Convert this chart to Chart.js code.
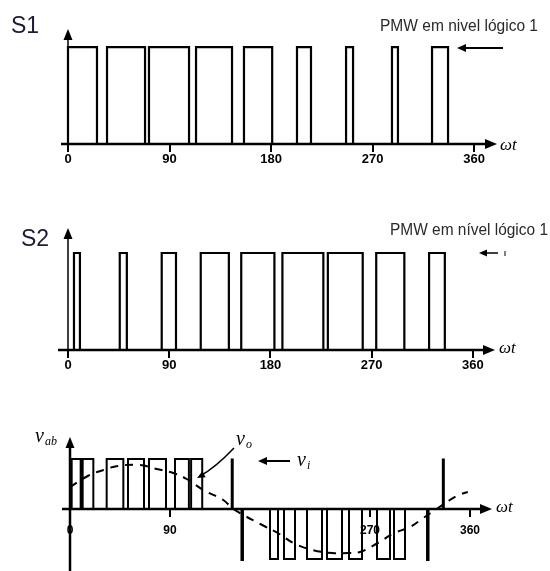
<!DOCTYPE html>
<html><head><meta charset="utf-8">
<script src="https://cdn.jsdelivr.net/npm/chart.js@4/dist/chart.umd.min.js"></script>
<style>
html,body{margin:0;padding:0;background:#fff;width:550px;height:571px;overflow:hidden}
canvas{position:absolute;left:0}
</style></head><body>
<canvas id="c1" style="top:0px" width="550" height="180"></canvas>
<canvas id="c2" style="top:200px" width="550" height="190"></canvas>
<canvas id="c3" style="top:390px" width="550" height="181"></canvas>
<script>
// ---- data (degrees of ωt) ----
const tickValues = [0, 90, 180, 270, 360];
const vabHiddenTicks = [180];
const s1Rise = [0, 34.6, 71.8, 113.5, 156, 203, 246.5, 287.2, 322.7];
const s1Fall = [25.7, 68.3, 107.3, 145.4, 181, 215.4, 252.7, 292.5, 336.9];
const s2Rise = [5.3, 46, 83.3, 118, 154, 190.6, 231, 274, 321];
const s2Fall = [10.6, 52.3, 96, 143, 183.5, 227, 262, 299, 335];
const vabPosRise = [1.5, 11.4, 33, 52.2, 71.1, 94.5, 109];
const vabPosFall = [9.6, 21, 48, 66.6, 86.4, 107, 119];
const vabNegRise = [180, 192.6, 213.3, 231.3, 251.1, 276.3, 291.6];
const vabNegFall = [187.2, 202.5, 226.8, 244.8, 262.8, 288, 301.5];
const vabPosSpikes = [146, 336];
const vabNegSpikes = [155, 322];
const voDeg = [0, 16, 30, 43, 63, 78, 93, 105, 120, 138, 147, 173, 187, 201, 218, 236, 250, 261, 277, 292, 306, 318, 330, 348, 358];
const voVal = [0.44, 0.66, 0.78, 0.86, 0.88, 0.80, 0.72, 0.60, 0.38, 0.18, 0, -0.32, -0.48, -0.68, -0.82, -0.88, -0.88, -0.86, -0.68, -0.48, -0.36, -0.18, 0, 0.26, 0.34];
const labelS1 = 'S1', labelS2 = 'S2';
const note1 = 'PMW em nivel lógico 1', note2 = 'PMW em nível lógico 1';

function pulses(rise, fall, level) {
  const pts = [];
  rise.forEach((r, i) => {
    pts.push({x: r, y: 0}, {x: r, y: level}, {x: fall[i], y: level}, {x: fall[i], y: 0});
  });
  return pts;
}
function spikes(xs, level) {
  const pts = [];
  xs.forEach(v => { pts.push({x: v, y: 0}, {x: v, y: level}, {x: v, y: null}); });
  return pts;
}

function arrowHead(ctx, x, y, dir, len, half) {
  ctx.beginPath();
  if (dir === 'up') { ctx.moveTo(x, y); ctx.lineTo(x - half, y + len); ctx.lineTo(x + half, y + len); }
  if (dir === 'right') { ctx.moveTo(x, y); ctx.lineTo(x - len, y - half); ctx.lineTo(x - len, y + half); }
  if (dir === 'left') { ctx.moveTo(x, y); ctx.lineTo(x + len, y - half); ctx.lineTo(x + len, y + half); }
  ctx.closePath(); ctx.fill();
}
function fitText(ctx, txt, x, yMid, w, font, color) {
  ctx.save();
  ctx.font = font; ctx.fillStyle = color; ctx.textBaseline = 'middle'; ctx.textAlign = 'left';
  const m = ctx.measureText(txt).width;
  ctx.translate(x, yMid); ctx.scale(w / m, 1); ctx.fillText(txt, 0, 0);
  ctx.restore();
}
function omegaT(ctx, x, y) {
  ctx.save(); ctx.fillStyle = '#000'; ctx.textBaseline = 'middle';
  ctx.font = 'italic 17px "Liberation Serif"'; ctx.fillText('ωt', x, y);
  ctx.restore();
}

function axesPlugin(o) {
  return {
    id: 'axesdeco',
    afterDatasetsDraw(chart) {
      const ctx = chart.ctx, xs = chart.scales.x, ys = chart.scales.y, ca = chart.chartArea;
      const x0 = xs.getPixelForValue(0), y0 = ys.getPixelForValue(0);
      ctx.save();
      ctx.strokeStyle = '#000'; ctx.fillStyle = '#000';
      ctx.lineWidth = o.xw;
      ctx.beginPath(); ctx.moveTo(ca.left, y0); ctx.lineTo(ca.right - 8, y0); ctx.stroke();
      arrowHead(ctx, ca.right, y0, 'right', 12, 5);
      ctx.lineWidth = o.yw;
      ctx.beginPath(); ctx.moveTo(x0, ca.top + 8); ctx.lineTo(x0, o.yBottom); ctx.stroke();
      arrowHead(ctx, x0, ca.top, 'up', 11, 4.5);
      ctx.restore();
      o.extra(ctx);
    }
  };
}

function baseOptions(xmin, xmax, ymin, ymax, pad, axisH, xpos, tickLen, tickPad, tickSize, hidden) {
  return {
    responsive: false, animation: false, devicePixelRatio: 1, events: [],
    layout: {padding: pad},
    plugins: {legend: {display: false}, tooltip: {enabled: false}},
    elements: {point: {radius: 0}, line: {tension: 0}},
    scales: {
      x: {
        type: 'linear', min: xmin, max: xmax, position: xpos,
        afterBuildTicks: (ax) => { ax.ticks = tickValues.map(v => ({value: v})); },
        afterFit: (sc) => { sc.height = axisH; },
        border: {display: false},
        grid: {drawOnChartArea: false, drawTicks: true, tickLength: tickLen, color: '#000', lineWidth: 2},
        ticks: {autoSkip: false, maxRotation: 0, padding: tickPad, color: '#000',
                font: {family: 'Liberation Sans', weight: 'bold', size: tickSize},
                callback: (v) => (hidden.includes(v) ? '' : String(v))}
      },
      y: {type: 'linear', min: ymin, max: ymax, display: false}
    }
  };
}

// ---- Panel S1 ----
new Chart(document.getElementById('c1'), {
  type: 'line',
  data: {datasets: [{data: pulses(s1Rise, s1Fall, 1), borderColor: '#000', borderWidth: 2.2, fill: false}]},
  options: baseOptions(-6.2, 380.3, 0, 1.186, {left: 61, right: 53, top: 29, bottom: 6}, 30, 'bottom', 8, 0, 13, []),
  plugins: [axesPlugin({xw: 2.5, yw: 1.5, yBottom: 149, extra(ctx) {
    ctx.save();
    ctx.fillStyle = '#1b1b33'; ctx.font = '23px "Liberation Sans"'; ctx.textBaseline = 'alphabetic';
    ctx.fillText(labelS1, 11, 33);
    ctx.restore();
    fitText(ctx, note1, 380, 27, 158, '16px "Liberation Sans"', '#2a2a2a');
    ctx.save(); ctx.strokeStyle = '#000'; ctx.fillStyle = '#000'; ctx.lineWidth = 2;
    ctx.beginPath(); ctx.moveTo(503, 48); ctx.lineTo(464, 48); ctx.stroke();
    arrowHead(ctx, 457, 48, 'left', 9, 4);
    ctx.restore();
    omegaT(ctx, 500, 146);
  }})]
});

// ---- Panel S2 ----
new Chart(document.getElementById('c2'), {
  type: 'line',
  data: {datasets: [{data: pulses(s2Rise, s2Fall, 1), borderColor: '#000', borderWidth: 2.2, fill: false}]},
  options: baseOptions(-8.9, 379.6, 0, 1.258, {left: 58, right: 55, top: 28, bottom: 10}, 30, 'bottom', 8, 0, 13, []),
  plugins: [axesPlugin({xw: 2.5, yw: 1.5, yBottom: 155, extra(ctx) {
    ctx.save();
    ctx.fillStyle = '#1b1b33'; ctx.font = '23px "Liberation Sans"'; ctx.textBaseline = 'alphabetic';
    ctx.fillText(labelS2, 21, 46);
    ctx.restore();
    fitText(ctx, note2, 390, 31, 158, '16px "Liberation Sans"', '#2a2a2a');
    ctx.save(); ctx.strokeStyle = '#000'; ctx.fillStyle = '#000'; ctx.lineWidth = 1.5;
    ctx.beginPath(); ctx.moveTo(498, 53); ctx.lineTo(485, 53); ctx.stroke();
    arrowHead(ctx, 479, 53, 'left', 8, 3.5);
    ctx.lineWidth = 1; ctx.beginPath(); ctx.moveTo(505, 51); ctx.lineTo(505, 56); ctx.stroke();
    ctx.restore();
    omegaT(ctx, 499, 149);
  }})]
});

// ---- Panel v_ab ----
new Chart(document.getElementById('c3'), {
  type: 'line',
  data: {datasets: [
    {data: pulses(vabPosRise, vabPosFall, 1), borderColor: '#000', borderWidth: 2, fill: false},
    {data: pulses(vabNegRise, vabNegFall, -1), borderColor: '#000', borderWidth: 2, fill: false},
    {data: spikes(vabPosSpikes, 1.01), borderColor: '#000', borderWidth: 3, fill: false, spanGaps: false},
    {data: spikes(vabNegSpikes, -1.04), borderColor: '#000', borderWidth: 3.5, fill: false, spanGaps: false},
    {data: voDeg.map((d, i) => ({x: d, y: voVal[i]})), borderColor: '#000', borderWidth: 2, borderDash: [8, 7],
     fill: false, tension: 0.4}
  ]},
  options: baseOptions(-7.2, 379.8, -1.24, 1.44, {left: 62, right: 58, top: 47, bottom: 0}, 0, {y: 0}, 8, 6, 12, vabHiddenTicks),
  plugins: [axesPlugin({xw: 2.5, yw: 2.5, yBottom: 181, extra(ctx) {
    ctx.save(); ctx.fillStyle = '#000'; ctx.textBaseline = 'alphabetic';
    ctx.font = 'italic 20px "Liberation Serif"'; ctx.fillText('v', 35, 52);
    ctx.font = 'italic 12px "Liberation Serif"'; ctx.fillText('ab', 45, 55);
    ctx.font = 'italic 20px "Liberation Serif"'; ctx.fillText('v', 236, 55);
    ctx.font = 'italic 12px "Liberation Serif"'; ctx.fillText('o', 246, 58);
    ctx.font = 'italic 20px "Liberation Serif"'; ctx.fillText('v', 297, 76);
    ctx.font = 'italic 12px "Liberation Serif"'; ctx.fillText('i', 307, 79);
    ctx.strokeStyle = '#000'; ctx.lineWidth = 1.5;
    ctx.beginPath(); ctx.moveTo(234, 58); ctx.quadraticCurveTo(215, 78, 200, 86); ctx.stroke();
    ctx.save(); ctx.translate(197, 88); ctx.rotate(Math.atan2(8, -15));
    ctx.beginPath(); ctx.moveTo(0, 0); ctx.lineTo(-8, -3.5); ctx.lineTo(-8, 3.5); ctx.closePath(); ctx.fill();
    ctx.restore();
    ctx.lineWidth = 2;
    ctx.beginPath(); ctx.moveTo(290, 71); ctx.lineTo(266, 71); ctx.stroke();
    arrowHead(ctx, 258, 71, 'left', 9, 4);
    ctx.restore();
    omegaT(ctx, 496, 118);
  }})]
});
</script>
</body></html>
